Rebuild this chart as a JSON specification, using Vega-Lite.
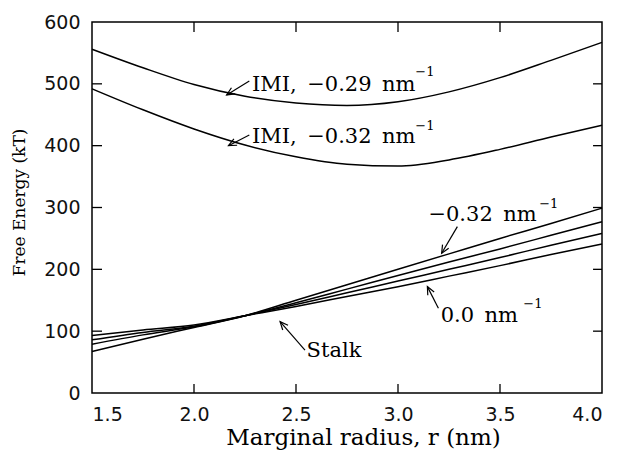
{
  "$schema": "https://vega.github.io/schema/vega-lite/v6.json",
  "width": 510,
  "height": 371,
  "autosize": "none",
  "padding": {"left": 92, "top": 22, "right": 18, "bottom": 61},
  "background": "white",
  "config": {
    "view": {"stroke": "black", "strokeWidth": 1.5},
    "axis": {
      "grid": false,
      "domain": false,
      "ticks": false,
      "tickSize": 0,
      "labelFont": "DejaVu Sans",
      "labelFontSize": 19,
      "labelColor": "#111",
      "titleFont": "DejaVu Serif",
      "titleFontSize": 18,
      "titleFontWeight": "normal",
      "titleColor": "black"
    }
  },
  "datasets": {
    "curves": [
      {"s": "IMI29", "r": 1.5, "F": 556}, {"s": "IMI29", "r": 1.75, "F": 526}, {"s": "IMI29", "r": 2.0, "F": 499}, {"s": "IMI29", "r": 2.25, "F": 480}, {"s": "IMI29", "r": 2.5, "F": 469}, {"s": "IMI29", "r": 2.75, "F": 465}, {"s": "IMI29", "r": 3.0, "F": 471}, {"s": "IMI29", "r": 3.25, "F": 487}, {"s": "IMI29", "r": 3.5, "F": 510}, {"s": "IMI29", "r": 3.75, "F": 538}, {"s": "IMI29", "r": 4.0, "F": 567},
      {"s": "IMI32", "r": 1.5, "F": 492}, {"s": "IMI32", "r": 1.75, "F": 458}, {"s": "IMI32", "r": 2.0, "F": 427}, {"s": "IMI32", "r": 2.25, "F": 401}, {"s": "IMI32", "r": 2.5, "F": 382}, {"s": "IMI32", "r": 2.75, "F": 370}, {"s": "IMI32", "r": 3.0, "F": 367}, {"s": "IMI32", "r": 3.25, "F": 377}, {"s": "IMI32", "r": 3.5, "F": 394}, {"s": "IMI32", "r": 3.75, "F": 414}, {"s": "IMI32", "r": 4.0, "F": 433},
      {"s": "S32", "r": 1.5, "F": 67}, {"s": "S32", "r": 1.75, "F": 87}, {"s": "S32", "r": 2.0, "F": 106}, {"s": "S32", "r": 2.25, "F": 125}, {"s": "S32", "r": 2.5, "F": 150}, {"s": "S32", "r": 2.75, "F": 175}, {"s": "S32", "r": 3.0, "F": 200}, {"s": "S32", "r": 3.25, "F": 225}, {"s": "S32", "r": 3.5, "F": 250}, {"s": "S32", "r": 3.75, "F": 274}, {"s": "S32", "r": 4.0, "F": 299},
      {"s": "S2", "r": 1.5, "F": 79}, {"s": "S2", "r": 1.75, "F": 94}, {"s": "S2", "r": 2.0, "F": 107}, {"s": "S2", "r": 2.25, "F": 125}, {"s": "S2", "r": 2.5, "F": 146}, {"s": "S2", "r": 2.75, "F": 168}, {"s": "S2", "r": 3.0, "F": 190}, {"s": "S2", "r": 3.25, "F": 212}, {"s": "S2", "r": 3.5, "F": 233}, {"s": "S2", "r": 3.75, "F": 255}, {"s": "S2", "r": 4.0, "F": 277},
      {"s": "S1", "r": 1.5, "F": 86}, {"s": "S1", "r": 1.75, "F": 98}, {"s": "S1", "r": 2.0, "F": 108}, {"s": "S1", "r": 2.25, "F": 125}, {"s": "S1", "r": 2.5, "F": 143}, {"s": "S1", "r": 2.75, "F": 162}, {"s": "S1", "r": 3.0, "F": 181}, {"s": "S1", "r": 3.25, "F": 200}, {"s": "S1", "r": 3.5, "F": 219}, {"s": "S1", "r": 3.75, "F": 239}, {"s": "S1", "r": 4.0, "F": 258},
      {"s": "S0", "r": 1.5, "F": 93}, {"s": "S0", "r": 1.75, "F": 102}, {"s": "S0", "r": 2.0, "F": 110}, {"s": "S0", "r": 2.25, "F": 125}, {"s": "S0", "r": 2.5, "F": 140}, {"s": "S0", "r": 2.75, "F": 156}, {"s": "S0", "r": 3.0, "F": 172}, {"s": "S0", "r": 3.25, "F": 189}, {"s": "S0", "r": 3.5, "F": 206}, {"s": "S0", "r": 3.75, "F": 224}, {"s": "S0", "r": 4.0, "F": 241}
    ],
    "arrows": [
      {"x": 2.271, "y": 504.6, "x2": 2.160, "y2": 482, "angle": 148},
      {"x": 2.271, "y": 417.3, "x2": 2.169, "y2": 400, "angle": 153},
      {"x": 3.291, "y": 269, "x2": 3.214, "y2": 226, "angle": 120},
      {"x": 3.198, "y": 137, "x2": 3.144, "y2": 172, "angle": 243},
      {"x": 2.544, "y": 69.3, "x2": 2.422, "y2": 115.3, "angle": 228}
    ],
    "ticks": [
      {"x": 2.0, "y": 0, "x2": 2.0, "y2": 14.6}, {"x": 2.5, "y": 0, "x2": 2.5, "y2": 14.6}, {"x": 3.0, "y": 0, "x2": 3.0, "y2": 14.6}, {"x": 3.5, "y": 0, "x2": 3.5, "y2": 14.6},
      {"x": 2.0, "y": 600, "x2": 2.0, "y2": 584}, {"x": 2.5, "y": 600, "x2": 2.5, "y2": 584}, {"x": 3.0, "y": 600, "x2": 3.0, "y2": 584}, {"x": 3.5, "y": 600, "x2": 3.5, "y2": 584},
      {"x": 1.5, "y": 100, "x2": 1.549, "y2": 100}, {"x": 1.5, "y": 200, "x2": 1.549, "y2": 200}, {"x": 1.5, "y": 300, "x2": 1.549, "y2": 300}, {"x": 1.5, "y": 400, "x2": 1.549, "y2": 400}, {"x": 1.5, "y": 500, "x2": 1.549, "y2": 500},
      {"x": 4.0, "y": 100, "x2": 3.956, "y2": 100}, {"x": 4.0, "y": 200, "x2": 3.956, "y2": 200}, {"x": 4.0, "y": 300, "x2": 3.956, "y2": 300}, {"x": 4.0, "y": 400, "x2": 3.956, "y2": 400}, {"x": 4.0, "y": 500, "x2": 3.956, "y2": 500}
    ],
    "labels": [
      {"x": 2.284, "y": 489, "t": "IMI,\u2002−0.29\u2002nm"},
      {"x": 2.284, "y": 404, "t": "IMI,\u2002−0.32\u2002nm"},
      {"x": 3.149, "y": 278.7, "t": "−0.32\u2002nm"},
      {"x": 3.209, "y": 115.3, "t": "0.0\u2002nm"},
      {"x": 2.552, "y": 58.7, "t": "Stalk"}
    ],
    "sups": [
      {"x": 3.085, "y": 512, "t": "−1"},
      {"x": 3.085, "y": 425, "t": "−1"},
      {"x": 3.692, "y": 299, "t": "−1"},
      {"x": 3.614, "y": 137.5, "t": "−1"}
    ]
  },
  "layer": [
    {
      "data": {"name": "curves"},
      "mark": {"type": "line", "color": "black", "strokeWidth": 1.5, "interpolate": "monotone"},
      "encoding": {
        "x": {"field": "r", "type": "quantitative",
          "scale": {"domain": [1.5, 4.0], "nice": false, "zero": false},
          "axis": {"orient": "bottom", "values": [1.5, 2.0, 2.5, 3.0, 3.5, 4.0], "format": ".1f", "labelPadding": 12,
            "title": "Marginal radius, r (nm)", "titleFontSize": 23, "titleX": 271, "titleY": 51, "titleAlign": "center", "titleBaseline": "alphabetic", "titleAnchor": null}},
        "y": {"field": "F", "type": "quantitative",
          "scale": {"domain": [0, 600], "nice": false},
          "axis": {"orient": "left", "values": [0, 100, 200, 300, 400, 500, 600], "labelPadding": 12,
            "title": "Free Energy (kT)", "titleFontSize": 17, "titleX": -64, "titleY": 180, "titleAlign": "center", "titleAngle": -90, "titleBaseline": "bottom", "titleAnchor": null}},
        "detail": {"field": "s", "type": "nominal"}
      }
    },
    {
      "data": {"name": "ticks"},
      "mark": {"type": "rule", "color": "black", "strokeWidth": 1.3},
      "encoding": {
        "x": {"field": "x", "type": "quantitative"},
        "y": {"field": "y", "type": "quantitative"},
        "x2": {"field": "x2"},
        "y2": {"field": "y2"}
      }
    },
    {
      "data": {"name": "arrows"},
      "mark": {"type": "rule", "color": "black", "strokeWidth": 1.2},
      "encoding": {
        "x": {"field": "x", "type": "quantitative"},
        "y": {"field": "y", "type": "quantitative"},
        "x2": {"field": "x2"},
        "y2": {"field": "y2"}
      }
    },
    {
      "data": {"name": "arrows"},
      "mark": {"type": "point", "shape": "M-1,-0.45L0,0L-1,0.45", "filled": false, "stroke": "black", "strokeWidth": 1.2, "size": 250, "opacity": 1},
      "encoding": {
        "x": {"field": "x2", "type": "quantitative"},
        "y": {"field": "y2", "type": "quantitative"},
        "angle": {"field": "angle", "type": "quantitative", "scale": null}
      }
    },
    {
      "data": {"name": "labels"},
      "mark": {"type": "text", "font": "DejaVu Serif", "fontSize": 21, "align": "left", "baseline": "alphabetic", "color": "black"},
      "encoding": {
        "x": {"field": "x", "type": "quantitative"},
        "y": {"field": "y", "type": "quantitative"},
        "text": {"field": "t"}
      }
    },
    {
      "data": {"name": "sups"},
      "mark": {"type": "text", "font": "DejaVu Serif", "fontSize": 13, "align": "left", "baseline": "alphabetic", "color": "black"},
      "encoding": {
        "x": {"field": "x", "type": "quantitative"},
        "y": {"field": "y", "type": "quantitative"},
        "text": {"field": "t"}
      }
    }
  ]
}
